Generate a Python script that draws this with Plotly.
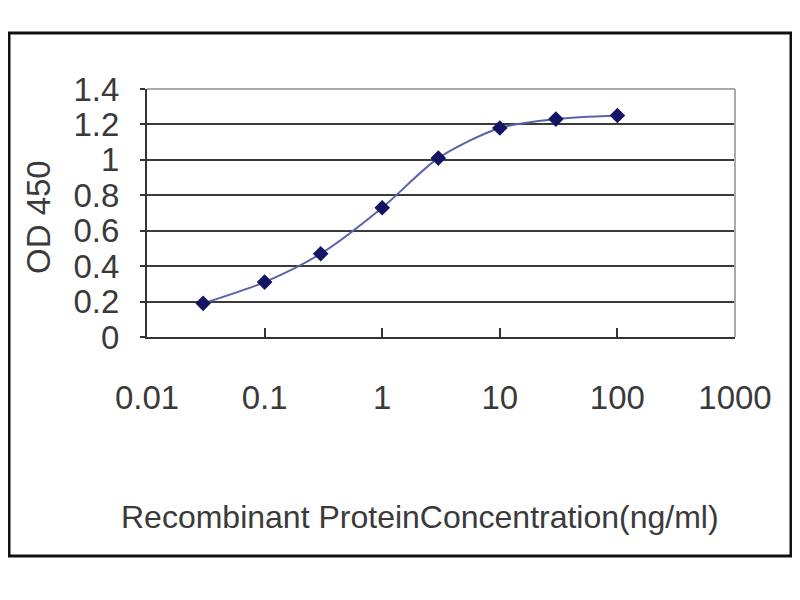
import plotly.graph_objects as go

conc = [0.03, 0.1, 0.3, 1, 3, 10, 30, 100]
od450 = [0.19, 0.31, 0.47, 0.73, 1.01, 1.18, 1.23, 1.25]
x_ticks = [0.01, 0.1, 1, 10, 100, 1000]
x_tick_labels = ["0.01", "0.1", "1", "10", "100", "1000"]
y_ticks = [0, 0.2, 0.4, 0.6, 0.8, 1, 1.2, 1.4]
y_tick_labels = ["0", "0.2", "0.4", "0.6", "0.8", "1", "1.2", "1.4"]

FONT = "Liberation Sans, Arial, sans-serif"
TXT = "#3a3a3a"

# page body has an 8px default margin: work in screen pixels, convert
OFF = 8
W, H = 800 - OFF, 600 - OFF
L, R, T, B = 147 - OFF, 735 - OFF, 89 - OFF, 337 - OFF
pw, ph = R - L, B - T


def px(x):
    return (x - OFF - L) / pw


def py(y):
    return (B - (y - OFF)) / ph


fig = go.Figure()
fig.add_trace(go.Scatter(
    x=conc, y=od450, mode="lines+markers",
    line=dict(color="#5a62a8", width=2, shape="spline", smoothing=0.8),
    marker=dict(symbol="diamond", size=12, color="#141466"),
    showlegend=False,
))

fig.update_layout(
    width=W, height=H,
    margin=dict(l=L, r=W - R, t=T, b=H - B, pad=0, autoexpand=False),
    paper_bgcolor="white", plot_bgcolor="white",
    font=dict(family=FONT, color=TXT),
    xaxis=dict(
        type="log", range=[-2, 3],
        tickvals=x_ticks, ticktext=x_tick_labels,
        ticks="inside", ticklen=9, tickwidth=2, tickcolor="#333333",
        showline=True, linecolor="#333333", linewidth=2,
        showgrid=False, zeroline=False,
        tickfont=dict(size=33, family=FONT, color=TXT),
        ticklabelstandoff=30,
    ),
    yaxis=dict(
        range=[0, 1.4],
        tickvals=y_ticks, ticktext=y_tick_labels,
        ticks="outside", ticklen=5, tickwidth=2, tickcolor="#333333",
        showline=True, linecolor="#333333", linewidth=2,
        showgrid=True, gridcolor="#3a3a3a", gridwidth=2,
        zeroline=False,
        tickfont=dict(size=33, family=FONT, color=TXT),
        ticklabelstandoff=14,
    ),
    annotations=[
        dict(text="Recombinant ProteinConcentration(ng/ml)", xref="paper", yref="paper",
             x=px(420), y=py(517), xanchor="center", yanchor="middle", showarrow=False,
             font=dict(size=32, family=FONT, color=TXT)),
        dict(text="OD 450", xref="paper", yref="paper", textangle=-90,
             x=px(38), y=py(217), xanchor="center", yanchor="middle", showarrow=False,
             font=dict(size=33, family=FONT, color=TXT)),
    ],
    shapes=[
        dict(type="line", xref="paper", yref="paper", x0=0, x1=1, y0=1, y1=1,
             line=dict(color="#aaaaaa", width=2), layer="above"),
        dict(type="line", xref="paper", yref="paper", x0=1, x1=1, y0=0, y1=1,
             line=dict(color="#aaaaaa", width=2), layer="above"),
        dict(type="rect", xref="paper", yref="paper",
             x0=px(9), x1=px(791), y0=py(33), y1=py(556),
             line=dict(color="#111111", width=3), fillcolor="rgba(0,0,0,0)",
             layer="below"),
    ],
)

fig.write_html("out.html")
